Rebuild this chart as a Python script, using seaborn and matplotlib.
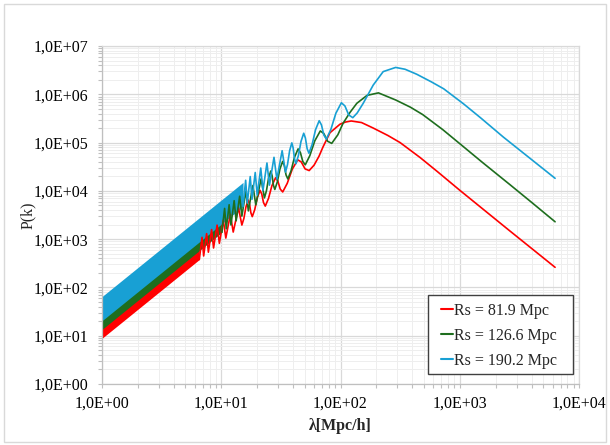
import matplotlib
matplotlib.use("Agg")
import matplotlib.pyplot as plt
import matplotlib.ticker as mticker
from matplotlib.lines import Line2D
from matplotlib.patches import Rectangle
import numpy as np
import pandas as pd
import seaborn as sns

# series labels / colours
labels = ["Rs = 81.9 Mpc", "Rs = 126.6 Mpc", "Rs = 190.2 Mpc"]
colors = ["#ff0000", "#1e6e1e", "#18a0d4"]

# dense oscillation band (too fine to resolve): lambda, lower and upper envelope
red_band_lam = [1.0, 6.55]
red_band_lo = [8.83, 379]
red_band_hi = [22.9, 982]
green_band_lam = [1.0, 10.13]
green_band_lo = [13.5, 1385]
green_band_hi = [38.0, 3899]
blue_band_lam = [1.0, 15.22]
blue_band_lo = [20.4, 4725]
blue_band_hi = [64.6, 14960]

# resolved part of each curve
red_lam = [6.55, 6.90, 7.12, 7.54, 7.80, 8.30, 8.62, 9.23, 9.64, 10.41, 10.92, 11.92, 12.60, 13.95, 14.89,
           15.48, 16.12, 16.82, 17.25, 17.72, 18.20,
           19.09, 20.07, 21.16, 21.86, 22.61, 23.40,
           24.89, 26.59, 28.54, 29.81, 31.22, 32.76,
           35.76, 39.38, 43.80, 46.88, 50.46, 54.60,
           60.0, 66.0, 71.3, 81.6, 99.0, 110.0, 123.0, 150.0, 188.0, 250.0, 316.0,
           465.0, 650.0, 1000.0, 2630.0, 6300.0]
red_p = [379, 1090, 448, 1300, 537, 1577, 656, 1952, 820, 2481, 1053, 3254, 1402, 4457, 1958,
         2685, 4691, 6478, 5373, 3516, 2925,
         4082, 7273, 10250, 8625, 5723, 4835,
         6939, 12760, 18650, 16040, 10920, 9478,
         14320, 27990, 43930, 39670, 28520, 26320,
         34000, 52000, 81000, 160000, 240000, 266000, 280000, 260000, 200000, 140000, 100000,
         49000, 25000, 10300, 1480, 261]

green_lam = [10.13, 10.67, 11.01, 11.65, 12.06, 12.83, 13.33, 14.27, 14.89, 16.09, 16.88, 18.43, 19.48, 21.57, 23.02,
             23.93, 24.92, 26.00, 26.67, 27.38, 28.13,
             29.51, 31.03, 32.71, 33.79, 34.94, 36.17,
             38.48, 41.10, 44.11, 46.09, 48.27, 50.64,
             55.28, 60.87, 67.70, 72.47, 78.00, 84.40,
             95.0, 105.0, 120.0, 137.0, 167.0, 208.0, 291.0, 386.0, 489.0, 719.0,
             1000.0, 1546.0, 2630.0, 4066.0, 6300.0]
green_p = [1385, 4325, 1636, 5157, 1963, 6255, 2399, 7737, 2993, 9838, 3846, 12910, 5123, 17680, 7154,
           10020, 18200, 25690, 20840, 13120, 10680,
           15240, 28210, 40660, 33460, 21370, 17660,
           25920, 49490, 73950, 62230, 40780, 34610,
           53480, 108600, 174200, 153900, 106500, 96160,
           145000, 250000, 420000, 650000, 950000, 1070000, 760000, 540000, 380000, 186000,
           95000, 39000, 13500, 5600, 2290]

blue_lam = [15.22, 16.02, 16.54, 17.50, 18.11, 19.27, 20.02, 21.44, 22.38, 24.17, 25.36, 27.69, 29.26, 32.40, 34.58,
            35.95, 37.44, 39.06, 40.07, 41.14, 42.27,
            44.34, 46.62, 49.15, 50.76, 52.50, 54.34,
            57.81, 61.75, 66.27, 69.24, 72.51, 76.08,
            83.06, 91.44, 101.7, 108.9, 117.2, 126.8,
            138.0, 155.0, 188.0, 228.0, 290.0, 348.0, 436.0, 580.0, 733.0,
            1079.0, 1508.0, 2320.0, 6300.0]
blue_p = [4725, 16580, 5581, 19780, 6691, 23990, 8176, 29700, 10220, 37740, 13120, 49530, 17470, 67830, 24400,
          35150, 67850, 98580, 77730, 46050, 36450,
          53480, 105200, 156100, 124700, 74970, 60240,
          90900, 184600, 283700, 232000, 143000, 118100,
          187600, 404700, 668000, 574000, 373700, 328000,
          410000, 650000, 1550000, 2950000, 3600000, 3300000, 2600000, 1800000, 1300000,
          630000, 320000, 130000, 18200]

y_ticks = [1e0, 1e1, 1e2, 1e3, 1e4, 1e5, 1e6, 1e7]
x_ticks = [1e0, 1e1, 1e2, 1e3, 1e4]

sns.set_theme(style="white")
plt.rcParams["font.family"] = ["Liberation Serif", "DejaVu Serif"]
FS = 11.5

fig = plt.figure(figsize=(6.1, 4.45), dpi=100)
ax = fig.add_axes([0.1672, 0.1371, 0.782, 0.7595])
ax.set_xscale("log")
ax.set_yscale("log")

series = [
    (red_band_lam, red_band_lo, red_band_hi, red_lam, red_p),
    (green_band_lam, green_band_lo, green_band_hi, green_lam, green_p),
    (blue_band_lam, blue_band_lo, blue_band_hi, blue_lam, blue_p),
]
for (b_lam, b_lo, b_hi, lam, p), color in zip(series, colors):
    ax.fill_between(b_lam, b_lo, b_hi, color=color, lw=0, zorder=2)
    df = pd.DataFrame({"lam": lam, "P": p})
    sns.lineplot(data=df, x="lam", y="P", ax=ax, color=color, lw=1.2,
                 estimator=None, sort=False, zorder=3)

ax.set_xlim(1, 1e4)
ax.set_ylim(1, 1e7)
ax.set_xticks(x_ticks)
ax.set_yticks(y_ticks)
fmt = mticker.FuncFormatter(lambda v, _: f"1,0E+{int(round(np.log10(v))):02d}")
ax.xaxis.set_major_formatter(fmt)
ax.yaxis.set_major_formatter(fmt)
ax.xaxis.set_minor_locator(mticker.LogLocator(base=10, subs=np.arange(2, 10), numticks=20))
ax.yaxis.set_minor_locator(mticker.LogLocator(base=10, subs=np.arange(2, 10), numticks=20))
ax.xaxis.set_minor_formatter(mticker.NullFormatter())
ax.yaxis.set_minor_formatter(mticker.NullFormatter())

ax.grid(which="major", color="#d9d9d9", lw=0.9)
ax.grid(which="minor", color="#eeeeee", lw=0.7)
ax.set_axisbelow(True)
for side in ["top", "right"]:
    ax.spines[side].set_color("#d9d9d9")
for side in ["left", "bottom"]:
    ax.spines[side].set_color("#bfbfbf")
for sp in ax.spines.values():
    sp.set_linewidth(0.9)

ax.tick_params(which="both", direction="out", color="#bfbfbf", length=3, width=0.8,
               labelsize=FS, labelcolor="#000000", bottom=True, left=True)
ax.tick_params(axis="x", pad=5.5)
ax.tick_params(axis="y", pad=7)

ax.set_xlabel("λ[Mpc/h]", fontsize=FS, fontweight="bold")
ax.set_ylabel("P(k)", fontsize=FS)
ax.xaxis.set_label_coords(0.5, -0.1)
ax.yaxis.set_label_coords(-0.138, 0.5)

# legend: frame drawn separately so its padding can follow the original
ax.add_patch(Rectangle((0.683, 0.0296), 0.304, 0.234, transform=ax.transAxes,
                       facecolor="white", edgecolor="#404040", lw=1.0, zorder=5))
handles = [Line2D([], [], color=c, lw=1.5) for c in colors]
leg = ax.legend(handles, labels, loc="upper left", bbox_to_anchor=(0.7105, 0.241),
                borderaxespad=0, borderpad=0, fontsize=FS, frameon=False,
                handlelength=0.75, handletextpad=0.1, labelspacing=0.58)
leg.set_zorder(6)

fig.patches.append(Rectangle((0.0066, 0.0067), 0.987, 0.984, transform=fig.transFigure,
                             fill=False, edgecolor="#d9d9d9", lw=1.0))

fig.savefig("out.png", dpi=100)
